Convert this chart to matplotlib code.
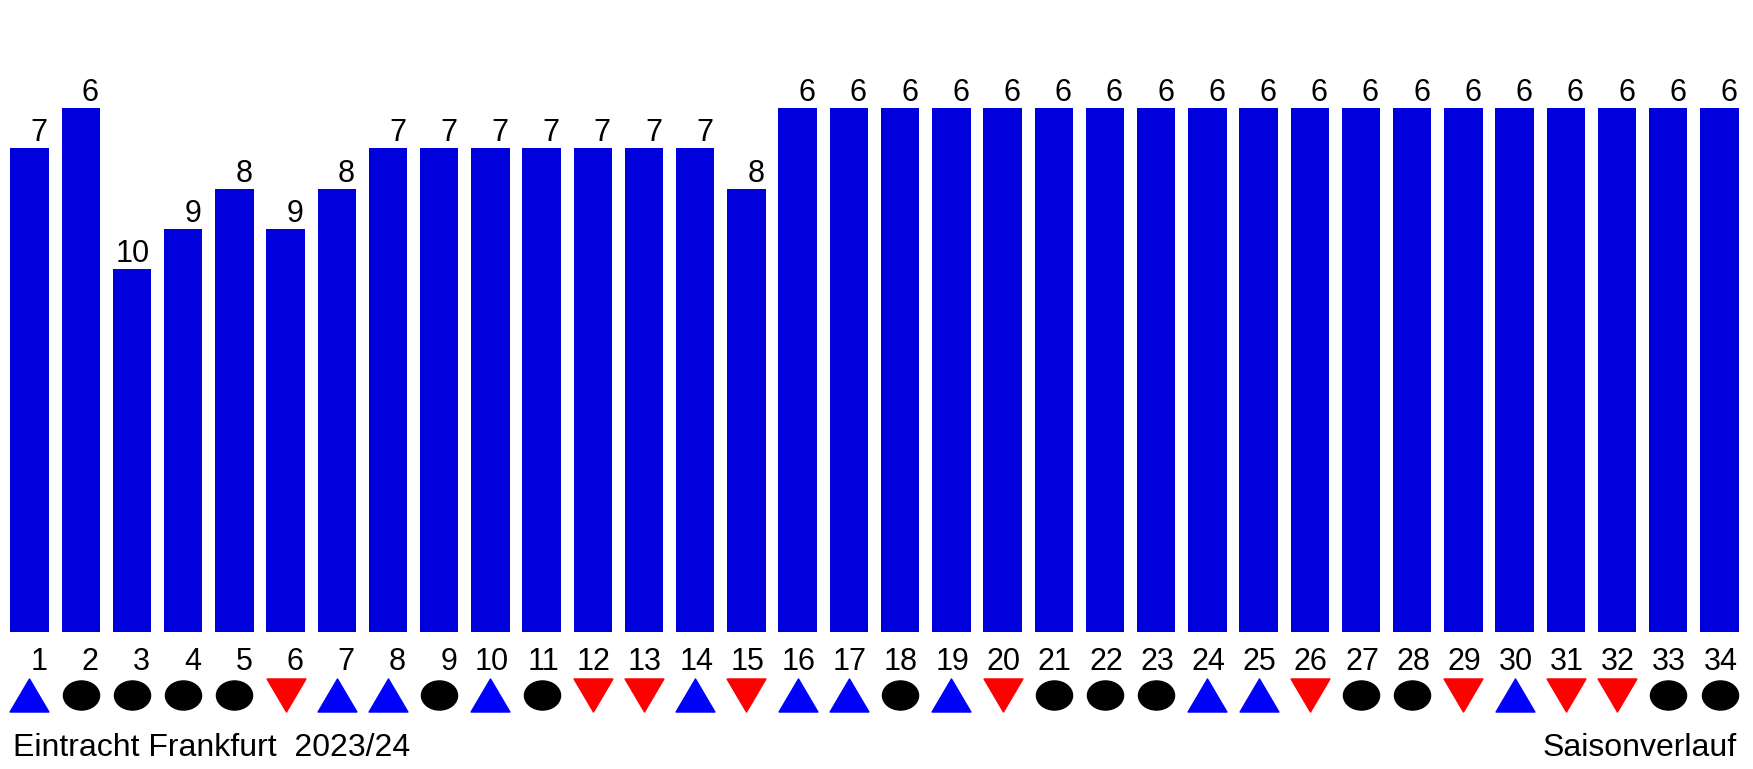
import numpy as np
import matplotlib.pyplot as plt
from matplotlib.path import Path
from matplotlib.transforms import Affine2D

# Tabellenplatz nach jedem Spieltag
spieltage = list(range(1, 35))
platz = [7, 6, 10, 9, 8, 9, 8, 7, 7, 7, 7, 7, 7, 7, 8,
         6, 6, 6, 6, 6, 6, 6, 6, 6, 6, 6, 6, 6, 6, 6, 6, 6, 6, 6]
# S = Sieg, U = Unentschieden, N = Niederlage
ergebnis = ['S', 'U', 'U', 'U', 'U', 'N', 'S', 'S', 'U', 'S', 'U', 'N', 'N', 'S', 'N',
            'S', 'S', 'U', 'S', 'N', 'U', 'U', 'U', 'S', 'S', 'N', 'U', 'U', 'N', 'S',
            'N', 'N', 'U', 'U']
teams = 18

hoehe = [teams + 1 - p for p in platz]

# marker shapes
tri_up = Path([(-1, -0.85), (1, -0.85), (0, 0.85), (-1, -0.85)],
              [Path.MOVETO, Path.LINETO, Path.LINETO, Path.CLOSEPOLY])
tri_down = Path([(-1, 0.85), (1, 0.85), (0, -0.85), (-1, 0.85)],
                [Path.MOVETO, Path.LINETO, Path.LINETO, Path.CLOSEPOLY])
ellipse = Affine2D().scale(1, 29 / 36).transform_path(Path.unit_circle())
stil = {'S': (tri_up, '#0000ff', 28), 'U': (ellipse, 'black', 26), 'N': (tri_down, '#ff0000', 28)}

fig = plt.figure(figsize=(17.53, 7.69), dpi=100)
ax = fig.add_axes([0, 0, 1, 1])
ax.set_xlim(0.424, 34.654)
ax.set_ylim(-3.40, 15.68)
ax.axis('off')

ax.bar(spieltage, hoehe, width=0.75, color='#0000dd')

for x, h, p in zip(spieltage, hoehe, platz):
    ax.text(x + 0.35, h + 0.17, str(p), ha='right', va='baseline',
            fontsize=22, family='Liberation Sans')
    ax.text(x + 0.35, -0.94, str(x), ha='right', va='baseline',
            fontsize=22, family='Liberation Sans')

for x, e in zip(spieltage, ergebnis):
    m, c, ms = stil[e]
    ax.plot(x, -1.56, marker=m, color=c, markersize=ms, linestyle='none')

fig.text(13 / 1753, 1 - 756 / 769, 'Eintracht Frankfurt  2023/24', ha='left', va='baseline',
         fontsize=23, family='Liberation Sans')
fig.text(1737 / 1753, 1 - 756 / 769, 'Saisonverlauf', ha='right', va='baseline',
         fontsize=23, family='Liberation Sans')

fig.savefig('out.png', dpi=100, facecolor='white')
